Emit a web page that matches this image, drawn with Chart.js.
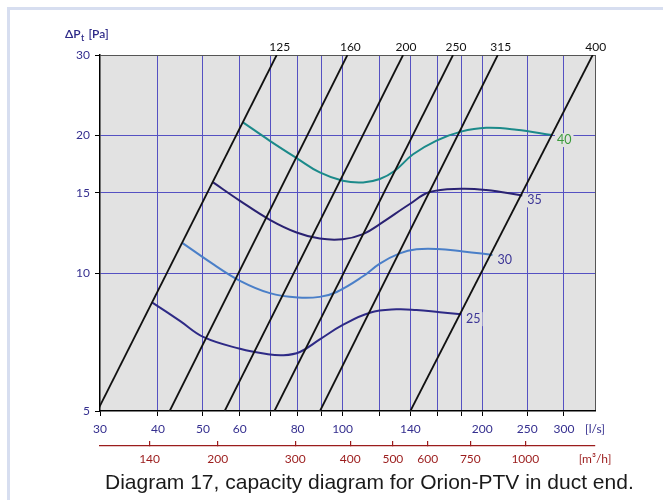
<!DOCTYPE html>
<html>
<head>
<meta charset="utf-8">
<title>Diagram 17</title>
<script src="https://cdn.jsdelivr.net/npm/chart.js@4.4.1/dist/chart.umd.min.js"></script>
<style>
  html, body { margin: 0; padding: 0; background: #fff; }
  #frame { position: absolute; left: 7px; top: 7px; width: 656px; height: 493px; box-sizing: border-box;
           border-left: 3px solid #d7def0; border-top: 3px solid #d7def0; }
  #wrap { position: absolute; left: 0; top: 0; width: 663px; height: 500px; }
  #caption { position: absolute; left: 105px; top: 471px; white-space: nowrap;
             font: 21px/21px "Liberation Sans", Arial, sans-serif; color: #1a1a1a; }
</style>
</head>
<body>
<div id="frame"></div>
<div id="wrap"><canvas id="capacityChart" width="663" height="500"></canvas></div>
<div id="caption">Diagram 17, capacity diagram for Orion-PTV in duct end.</div>
<script>
// axis ticks
const flowTicks = [30, 40, 50, 60, 70, 80, 90, 100, 120, 140, 160, 180, 200, 250, 300];
const flowLabels = [30, 40, 50, 60, 80, 100, 140, 200, 250, 300];
const pressureTicks = [5, 10, 15, 20, 30];
const airflowM3hTicks = [140, 200, 300, 400, 500, 600, 750, 1000];

// duct lines: flow [l/s] where each duct size crosses 5 Pa and 30 Pa
const ductSizes = ['125', '160', '200', '250', '315', '400'];
const ductFlowAt5Pa = [29.6, 42.4, 55.7, 71.3, 89.4, 140];
const ductFlowAt30Pa = [72.1, 102.4, 135, 173, 216, 346];

// sound level curves [dB(A)]
const soundLevels = ['25', '30', '35', '40'];
const flow25 = [38.9, 44.6, 50.2, 60.1, 68.6, 74.5, 80.9, 89.3, 100.1, 114.5, 130.6, 144.3, 162, 180];
const pressure25 = [8.63, 7.87, 7.25, 6.84, 6.66, 6.62, 6.73, 7.17, 7.71, 8.2, 8.34, 8.31, 8.22, 8.14];
const flow30 = [45.2, 52.6, 60.1, 69.7, 80.2, 89.3, 97.1, 110.7, 120.3, 132.8, 144.3, 159.8, 181.8, 210.4];
const pressure30 = [11.64, 10.47, 9.63, 9.05, 8.85, 8.88, 9.1, 9.85, 10.5, 11.05, 11.28, 11.3, 11.16, 10.97];
const flow35 = [52.6, 60.1, 69.7, 79.6, 89.3, 100.1, 110.7, 120.3, 139.6, 154.1, 180, 204, 244];
const pressure35 = [15.8, 14.4, 13.09, 12.28, 11.91, 11.87, 12.18, 12.81, 14.17, 15.05, 15.3, 15.2, 14.8];
const flow40 = [61, 69.7, 80.2, 89.3, 100.1, 110.7, 120.3, 129.6, 141.9, 159.4, 180, 204, 237, 282.7];
const pressure40 = [21.37, 19.48, 17.77, 16.61, 15.93, 15.8, 16.07, 16.75, 18.2, 19.5, 20.4, 20.8, 20.6, 20.05];

const curveFlows = [flow25, flow30, flow35, flow40];
const curvePressures = [pressure25, pressure30, pressure35, pressure40];
const curveColors = ['#2e2a86', '#4a7fc8', '#2a2272', '#1b8a8a'];
const curveLabelColors = ['#3c3596', '#3c3596', '#3c3596', '#3a9a3a'];

const FLOW_MAX = 350;
const M3H_MIN = 108;
const M3H_MAX = 1440;
const gridPurple = '#5551c2';
const navy = '#352f8f';
const darkRed = '#9b1c1c';
const tickFont = { family: 'Lato', size: 12 };

const datasets = [];
ductSizes.forEach((size, i) => {
    datasets.push({
        label: size,
        data: [{ x: ductFlowAt5Pa[i], y: 5 }, { x: ductFlowAt30Pa[i], y: 30 }],
        borderColor: '#111',
        borderWidth: 1.8,
        pointRadius: 0,
        tension: 0
    });
});
soundLevels.forEach((level, i) => {
    datasets.push({
        label: level + ' dB',
        data: curveFlows[i].map((q, j) => ({ x: q, y: curvePressures[i][j] })),
        borderColor: curveColors[i],
        borderWidth: 2,
        pointRadius: 0,
        tension: 0.4
    });
});

const plotBackground = {
    id: 'plotBackground',
    beforeDraw(chart) {
        const { ctx, chartArea: a } = chart;
        ctx.save();
        ctx.fillStyle = '#e2e2e2';
        ctx.fillRect(a.left, a.top, a.right - a.left, a.bottom - a.top);
        ctx.restore();
    }
};

const chartLabels = {
    id: 'chartLabels',
    afterDatasetsDraw(chart) {
        const { ctx } = chart;
        const xs = chart.scales.x, ys = chart.scales.y;
        ctx.save();

        // axis title: ΔPt [Pa]
        ctx.fillStyle = '#2e2a88';
        ctx.textBaseline = 'alphabetic';
        ctx.textAlign = 'left';
        ctx.font = '600 12px Lato';
        ctx.fillText('\u0394P', 65, 37.5);
        let tx = 65 + ctx.measureText('\u0394P').width + 0.5;
        ctx.font = '600 9px Lato';
        ctx.fillText('t', tx, 41);
        tx += ctx.measureText('t').width + 4;
        ctx.font = '600 12px Lato';
        ctx.fillText('[Pa]', tx, 37.5);

        // duct sizes at the top end of each line
        ctx.fillStyle = '#111';
        ctx.textAlign = 'center';
        ctx.textBaseline = 'middle';
        ctx.font = '12px Lato';
        ductSizes.forEach((size, i) => {
            const px = xs.getPixelForValue(ductFlowAt30Pa[i]);
            ctx.fillText(size, px + 3, chart.chartArea.top - 8);
        });

        // sound level at the end of each curve
        ctx.textAlign = 'left';
        ctx.font = '12.5px Lato';
        soundLevels.forEach((level, i) => {
            const n = curveFlows[i].length - 1;
            const px = xs.getPixelForValue(curveFlows[i][n]) + 5;
            const py = ys.getPixelForValue(curvePressures[i][n]) + 5;
            const w = ctx.measureText(level).width;
            ctx.fillStyle = '#e2e2e2';
            ctx.fillRect(px - 2, py - 7, w + 4, 14);
            ctx.fillStyle = curveLabelColors[i];
            ctx.fillText(level, px, py);
        });
        ctx.restore();
    }
};

new Chart(document.getElementById('capacityChart'), {
    type: 'line',
    data: { datasets },
    options: {
        responsive: false,
        animation: false,
        layout: { padding: { left: 0, top: 55, right: 68, bottom: 29 } },
        plugins: { legend: { display: false }, tooltip: { enabled: false } },
        scales: {
            x: {
                type: 'logarithmic',
                position: 'bottom',
                weight: 0,
                min: 30,
                max: FLOW_MAX,
                afterBuildTicks: s => { s.ticks = flowTicks.concat([FLOW_MAX]).map(v => ({ value: v })); },
                afterFit: s => { s.height = 35; },
                ticks: {
                    autoSkip: false,
                    maxRotation: 0,
                    padding: 6,
                    color: navy,
                    font: tickFont,
                    callback: v => v === FLOW_MAX ? '[l/s]' : (flowLabels.includes(v) ? String(v) : '')
                },
                grid: {
                    lineWidth: 1,
                    tickLength: 5,
                    color: c => c.tick.value === 30 ? 'rgba(0,0,0,0)' : (c.tick.value === FLOW_MAX ? '#555' : gridPurple),
                    tickColor: c => c.tick.value === FLOW_MAX ? 'rgba(0,0,0,0)' : '#000'
                },
                border: { color: '#000', width: 1.5 }
            },
            x2: {
                type: 'logarithmic',
                axis: 'x',
                position: 'bottom',
                weight: 1,
                min: M3H_MIN,
                max: M3H_MAX,
                afterBuildTicks: s => { s.ticks = airflowM3hTicks.concat([M3H_MAX]).map(v => ({ value: v })); },
                afterFit: s => { s.height = 25; },
                ticks: {
                    autoSkip: false,
                    maxRotation: 0,
                    padding: 11,
                    color: darkRed,
                    font: tickFont,
                    callback: v => v === M3H_MAX ? '[m\u00b3/h]' : String(v)
                },
                grid: {
                    drawOnChartArea: false,
                    tickLength: -5,
                    lineWidth: 1.2,
                    color: c => c.tick.value === M3H_MAX ? 'rgba(0,0,0,0)' : darkRed
                },
                border: { color: darkRed, width: 1.2 }
            },
            y: {
                type: 'logarithmic',
                min: 5,
                max: 30,
                afterBuildTicks: s => { s.ticks = pressureTicks.map(v => ({ value: v })); },
                afterFit: s => { s.width = 100; },
                ticks: { padding: 5, color: navy, font: tickFont, callback: v => String(v) },
                grid: {
                    lineWidth: 1,
                    tickLength: 5,
                    color: c => c.tick.value === 30 ? '#555' : (c.tick.value === 5 ? 'rgba(0,0,0,0)' : gridPurple),
                    tickColor: '#000'
                },
                border: { color: '#000', width: 1.5 }
            }
        }
    },
    plugins: [plotBackground, chartLabels]
});
</script>
</body>
</html>
